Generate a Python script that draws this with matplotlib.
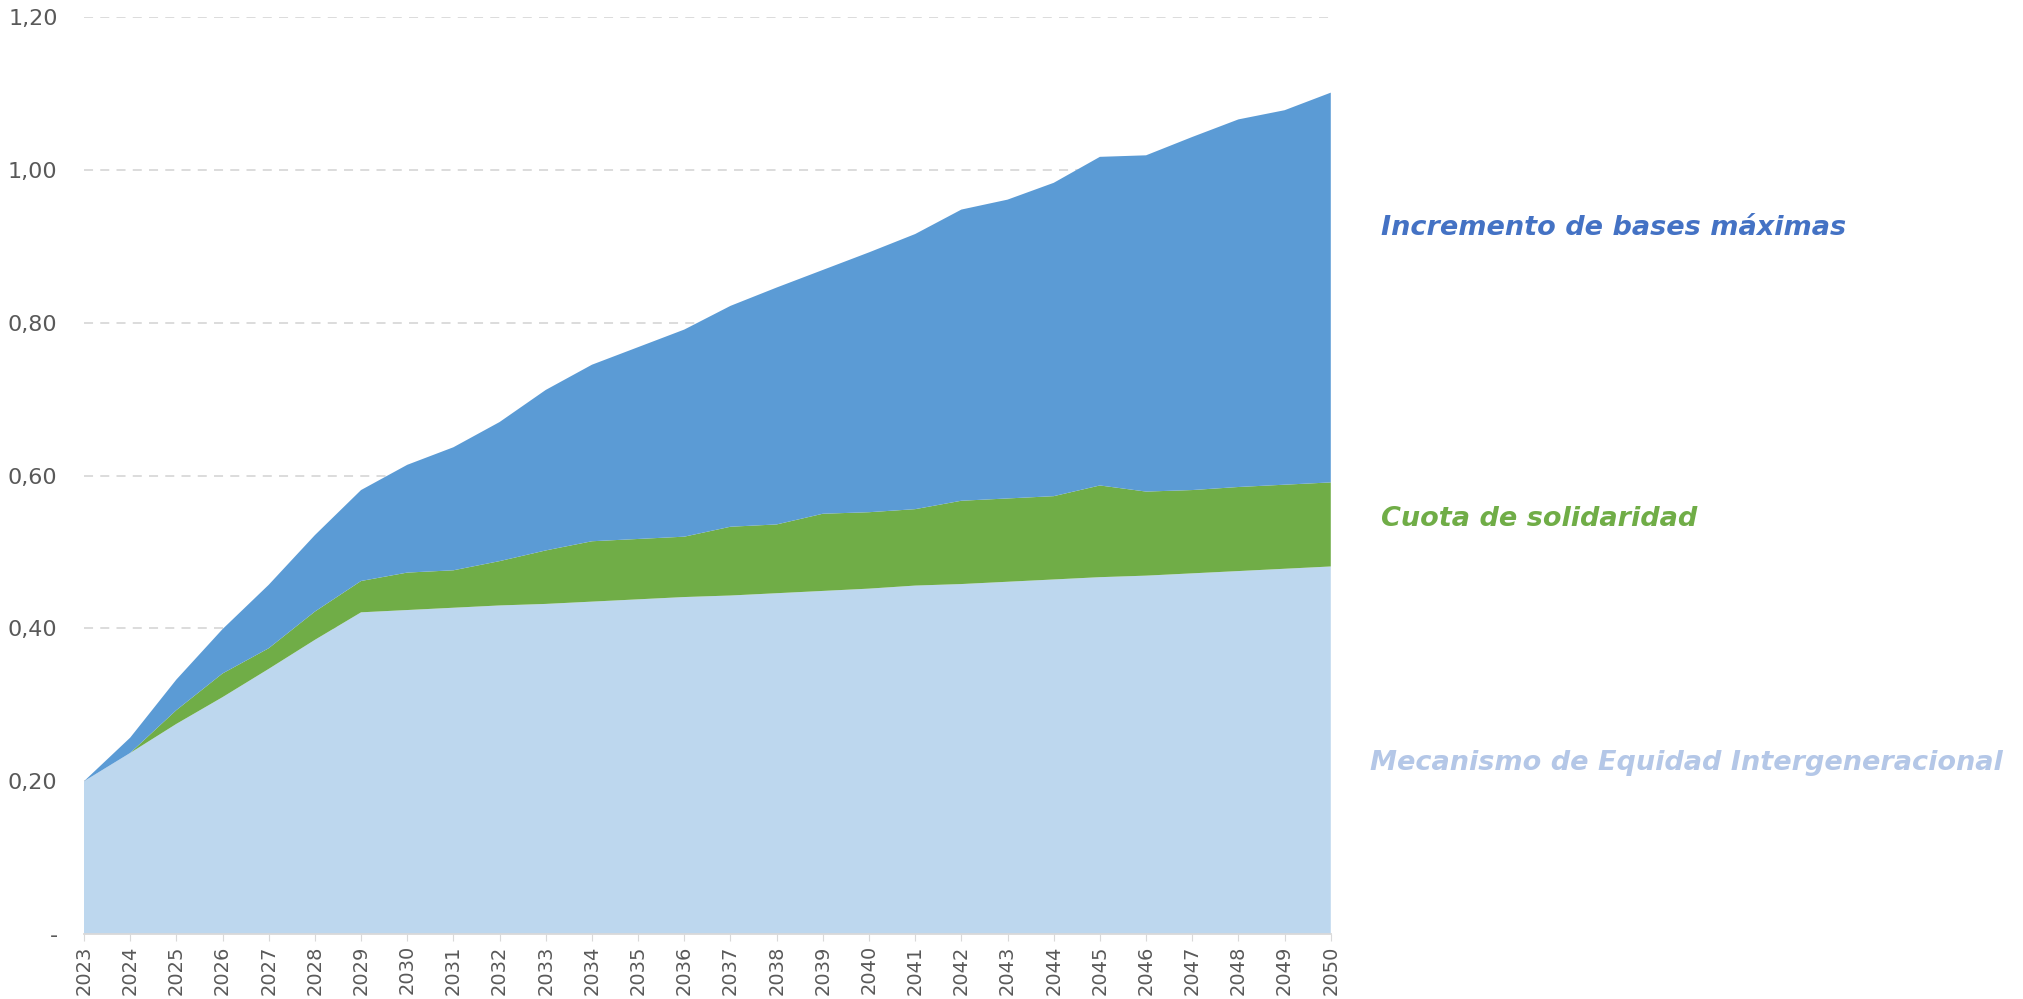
import numpy as np
import matplotlib
matplotlib.use("Agg")
import matplotlib.pyplot as plt
from matplotlib.ticker import FixedLocator

# data
years = list(range(2023, 2051))
mei = [0.200, 0.237, 0.275, 0.310, 0.347, 0.385, 0.421, 0.424, 0.427, 0.430,
       0.432, 0.435, 0.438, 0.441, 0.443, 0.446, 0.449, 0.452, 0.456, 0.458,
       0.461, 0.464, 0.467, 0.469, 0.472, 0.475, 0.478, 0.481]
cuota_top = [0.200, 0.237, 0.293, 0.341, 0.374, 0.422, 0.462, 0.473, 0.476, 0.488,
             0.502, 0.514, 0.517, 0.520, 0.533, 0.536, 0.550, 0.552, 0.556, 0.567,
             0.570, 0.573, 0.587, 0.579, 0.581, 0.585, 0.588, 0.591]
total = [0.200, 0.257, 0.333, 0.399, 0.457, 0.522, 0.581, 0.614, 0.637, 0.670,
         0.712, 0.745, 0.768, 0.791, 0.822, 0.846, 0.869, 0.892, 0.916, 0.948,
         0.961, 0.983, 1.017, 1.019, 1.043, 1.066, 1.078, 1.101]

cuota = [c - m for c, m in zip(cuota_top, mei)]
bases = [t - c for t, c in zip(total, cuota_top)]

labels = ["Mecanismo de Equidad Intergeneracional", "Cuota de solidaridad",
          "Incremento de bases máximas"]
colors = ["#BDD7EE", "#70AD47", "#5B9BD5"]
label_colors = ["#B4C7E7", "#70AD47", "#4472C4"]

fig = plt.figure(figsize=(20.24, 9.99), dpi=100)
ax = fig.add_axes([0.0415, 0.065, 0.616, 0.918])

ax.stackplot(years, mei, cuota, bases, colors=colors, linewidth=0, zorder=2)

ax.set_xlim(2023, 2050)
ax.set_ylim(0, 1.2)
yt = [0, 0.2, 0.4, 0.6, 0.8, 1.0, 1.2]
ax.yaxis.set_major_locator(FixedLocator(yt))
ax.set_yticklabels(["-"] + [f"{v:.2f}".replace(".", ",") for v in yt[1:]],
                   fontsize=16, color="#595959")
ax.set_xticks(years)
ax.set_xticklabels([str(y) for y in years], rotation=90, fontsize=14,
                   color="#595959")
ax.tick_params(axis="y", length=0, pad=19)
ax.tick_params(axis="x", length=5, color="#D9D9D9", pad=3)
ax.grid(axis="y", color="#D9D9D9", linestyle=(0, (5, 4)), linewidth=1.3, zorder=0)
ax.set_axisbelow(True)
for s in ["top", "right", "left"]:
    ax.spines[s].set_visible(False)
ax.spines["bottom"].set_color("#D9D9D9")
ax.spines["bottom"].set_linewidth(1.3)

# series labels on the right
label_y = [0.236, 0.48, 0.772]
label_x = [1370, 1381, 1381]
for txt, c, yv, xp in zip(labels, label_colors, label_y, label_x):
    fig.text(xp / 2024, yv, txt, color=c, fontsize=19.5, fontweight="bold",
             fontstyle="italic", va="center", ha="left")

fig.savefig("out.png", dpi=100)
